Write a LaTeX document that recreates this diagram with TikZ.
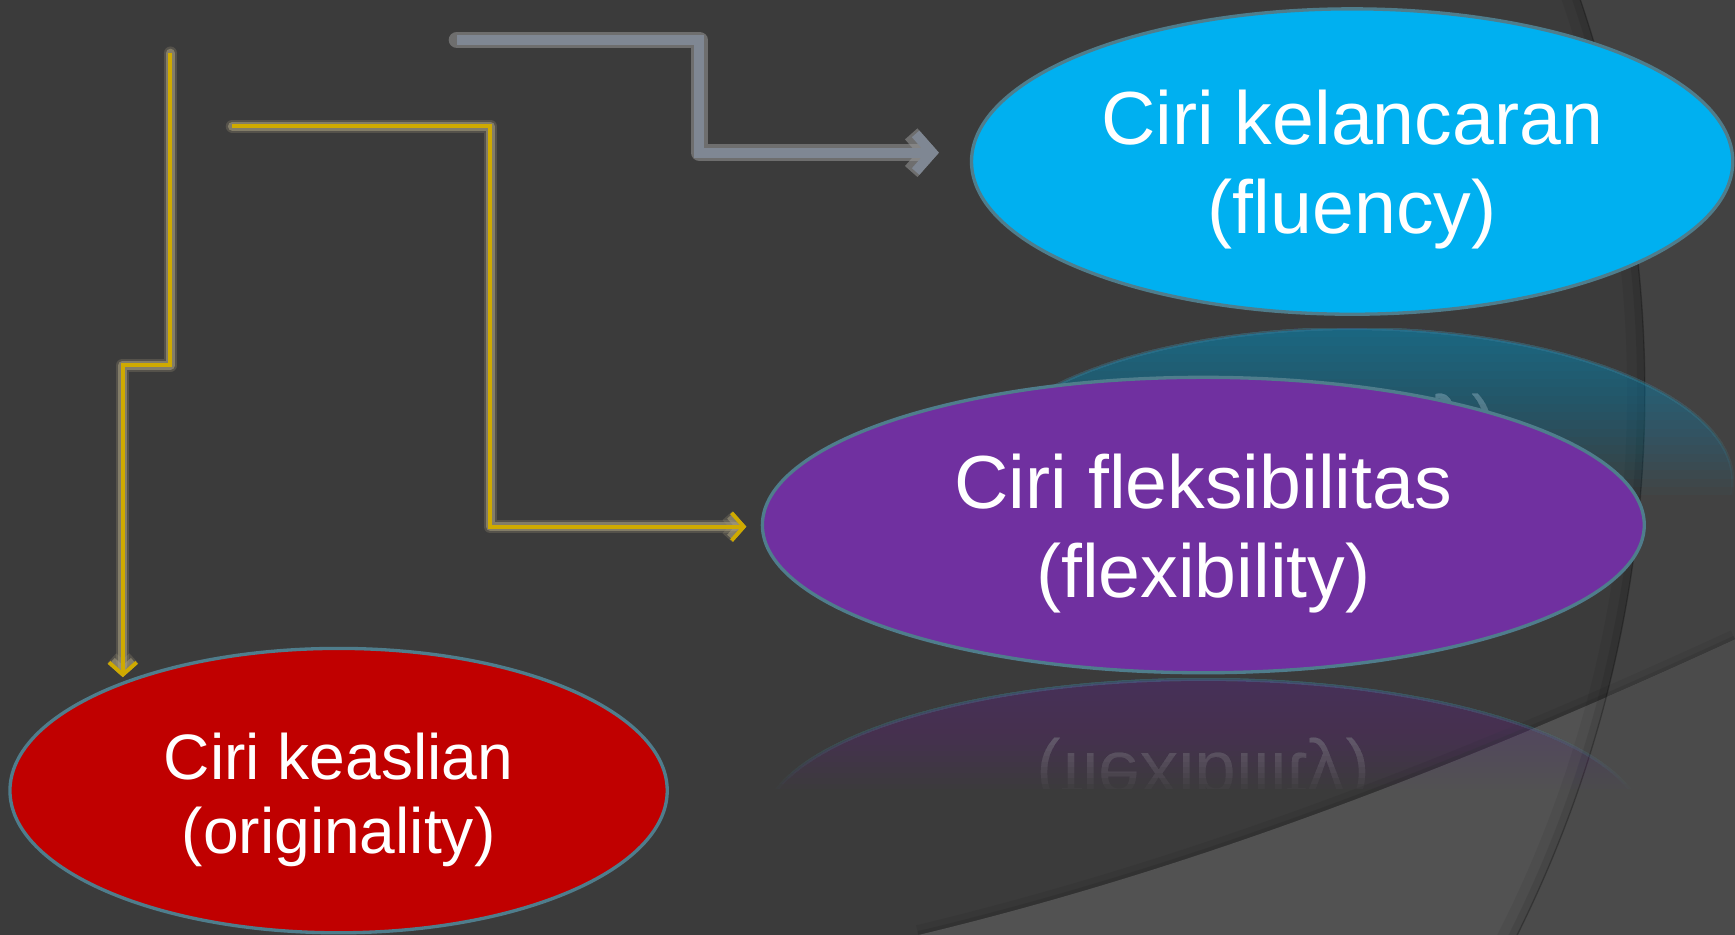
\documentclass[tikz,border=0pt]{standalone}
\usepackage{fontspec}
\setmainfont{Liberation Sans}
\usetikzlibrary{shapes.geometric,arrows.meta}
\definecolor{bgA}{HTML}{3B3B3B}
\definecolor{bgB}{HTML}{424242}
\definecolor{bgC}{HTML}{525252}
\definecolor{bgD}{HTML}{4B4B4B}
\definecolor{cblue}{HTML}{00B0F0}
\definecolor{cpurple}{HTML}{7030A0}
\definecolor{cred}{HTML}{C00000}
\definecolor{edge}{HTML}{4F7D8C}
\definecolor{ycore}{HTML}{CFAA00}
\definecolor{yglow}{HTML}{A39A7C}
\definecolor{gcore}{HTML}{7F8793}
\definecolor{gglow}{HTML}{999999}

\begin{document}
\begin{tikzpicture}[x=1pt,y=-1pt,
  oval/.style={ellipse, draw=edge, line width=3pt, inner sep=0pt},
  lbl/.style={text=white, align=center, inner sep=0pt, font=\fontsize{68}{80.5}\selectfont},
  lblsmall/.style={text=white, align=center, inner sep=0pt, font=\fontsize{58}{67}\selectfont},
  yglowA/.style={draw=yglow, line width=12pt, opacity=0.25, line cap=round, line join=round},
  yglowB/.style={draw=yglow, line width=8pt, opacity=0.6, line cap=round, line join=round},
  ycorest/.style={draw=ycore, line width=3.5pt, line join=miter},
  gglowst/.style={draw=gglow, line width=15pt, opacity=0.55, line cap=round, line join=round},
  gcorest/.style={draw=gcore, line width=9pt, line join=miter},
  ytip/.style={-{Straight Barb[length=11pt,width=25pt]}},
  ytipglow/.style={-{Straight Barb[length=9pt,width=20pt]}},
  gtip/.style={-{Straight Barb[length=15pt,width=34pt]}}
]
\useasboundingbox (0,0) rectangle (1568,845);
\clip (0,0) rectangle (1568,845);

% ---- background ----
\fill[bgA] (0,0) rectangle (1568,845);
\fill[bgB, even odd rule] (0,0) rectangle (1568,845) (386.5,354) circle [radius=1100];
% soft shadow of lower band
\draw[black, opacity=0.06, line width=18pt] (830,845) .. controls (1080,785) and (1318,693) .. (1568,578);
\draw[black, opacity=0.08, line width=7pt] (830,845) .. controls (1080,785) and (1318,693) .. (1568,578);
\fill[bgC] (830,845) .. controls (1080,785) and (1318,693) .. (1568,578) -- (1568,845) -- cycle;
\begin{scope}
  \clip (830,845) .. controls (1080,785) and (1318,693) .. (1568,578) -- (1568,845) -- cycle;
  \fill[bgD, even odd rule] (0,0) rectangle (1568,845) (386.5,354) circle [radius=1100];
\end{scope}
% arc with soft shadow on inner side
\draw[black, opacity=0.06, line width=16pt] (386.5,354) circle [radius=1092];
\draw[black, opacity=0.08, line width=7pt] (386.5,354) circle [radius=1096.5];
\draw[black, opacity=0.25, line width=1.2pt] (386.5,354) circle [radius=1100];

% ---- reflections (faded by nested strips) ----
\foreach \k in {0,...,19} {
  \begin{scope}
    \clip (860,297) rectangle (1580,{297+(\k+1)*7.5});
    \fill[cblue, fill opacity=0.0294] (1222,435) ellipse [x radius=344, y radius=138];
    \draw[edge, line width=3pt, opacity=0.045] (1222,435) ellipse [x radius=344, y radius=138];
    \node[lbl, text opacity=0.0294, anchor=base] (bluerefl\k) at (1222,370) {\scalebox{1}[-1]{(fluency)}};
  \end{scope}
  \begin{scope}
    \clip (680,613) rectangle (1500,{613+(\k+1)*5});
    \fill[cpurple, fill opacity=0.0252] (1087.5,747.5) ellipse [x radius=398.5, y radius=133.5];
    \draw[edge, line width=3pt, opacity=0.045] (1087.5,747.5) ellipse [x radius=398.5, y radius=133.5];
    \node[lbl, text opacity=0.0252, anchor=base] (purprefl\k) at (1087.5,681) {\scalebox{1}[-1]{(flexibility)}};
  \end{scope}
}

% ---- main ovals ----
\node[oval, fill=cblue, minimum width=688pt, minimum height=276pt] (blue) at (1222,146) {};
\node[oval, fill=cpurple, minimum width=797pt, minimum height=267pt] (purple) at (1087.5,474.5) {};
\node[oval, fill=cred, minimum width=594pt, minimum height=257pt] (red) at (306,714.5) {};

\node[lbl] (bluetxt) at (1222,153) {Ciri kelancaran\\(fluency)};
\node[lbl] (purpletxt) at (1087.5,482.5) {Ciri fleksibilitas\\(flexibility)};
\node[lblsmall] (redtxt) at (306,723) {Ciri keaslian\\(originality)};

% ---- connectors ----
\coordinate (g0) at (413,36);
\coordinate (g1) at (632,36);
\coordinate (g2) at (632,138);
\path (blue.west) ++(-28,-8) coordinate (g3);
\draw[gglowst, gtip] (g0) -- (g1) -- (g2) -- (g3);
\draw[gcorest, gtip] (g0) -- (g1) -- (g2) -- (g3);

\coordinate (a0) at (210,114);
\coordinate (a1) at (443,114);
\coordinate (a2) at (443,476);
\path (purple.west) ++(-13,1.5) coordinate (a3);
\draw[yglowA, ytipglow] (a0) -- (a1) -- (a2) -- (a3);
\draw[yglowB, ytipglow] (a0) -- (a1) -- (a2) -- (a3);
\draw[ycorest, ytip] (a0) -- (a1) -- (a2) -- (a3);

\coordinate (b0) at (154,48);
\coordinate (b1) at (154,330);
\coordinate (b2) at (111,330);
\path (red.center) ++(-195,-102.5) coordinate (b3);
\draw[yglowA, ytipglow] (b0) -- (b1) -- (b2) -- (b3);
\draw[yglowB, ytipglow] (b0) -- (b1) -- (b2) -- (b3);
\draw[ycorest, ytip] (b0) -- (b1) -- (b2) -- (b3);
\end{tikzpicture}
\end{document}
